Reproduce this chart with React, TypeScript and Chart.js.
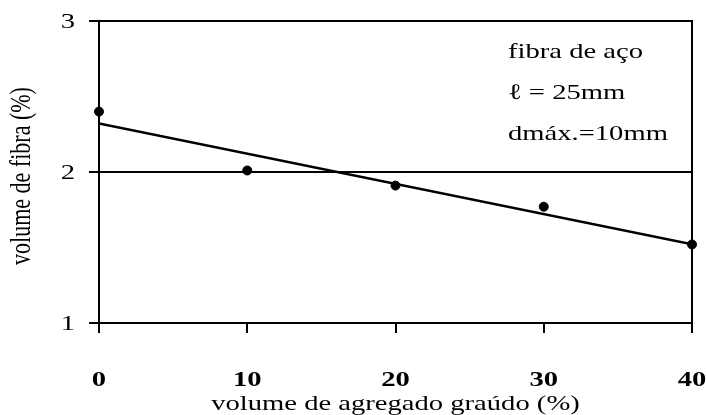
import React, { useEffect, useRef } from "react";
import { Chart, registerables } from "chart.js";

Chart.register(...registerables);

// Fibre volume measured against coarse aggregate volume
const aggregateVolume = [0, 10, 20, 30, 40];
const fibreVolume = [2.40, 2.01, 1.91, 1.77, 1.52];

const xTicks = [0, 10, 20, 30, 40];
const yTicks = [1, 2, 3];

const xTitle = "volume de agregado graúdo (%)";
const yTitle = "volume de fibra (%)";
const noteLines = ["fibra de aço", "ℓ = 25mm", "dmáx.=10mm"];

const FONT = "'Liberation Serif', 'Times New Roman', serif";
const FONT_SIZE = 22;
// the lettering is drawn wide, as in the printed figure
const STRETCH = 1.3;

// least-squares line through the measured points
function linearFit(xs: number[], ys: number[]) {
  const n = xs.length;
  const mx = xs.reduce((a, b) => a + b, 0) / n;
  const my = ys.reduce((a, b) => a + b, 0) / n;
  let sxy = 0;
  let sxx = 0;
  for (let i = 0; i < n; i++) {
    sxy += (xs[i] - mx) * (ys[i] - my);
    sxx += (xs[i] - mx) * (xs[i] - mx);
  }
  const slope = sxy / sxx;
  return { slope, intercept: my - slope * mx };
}

function wideText(ctx: CanvasRenderingContext2D, text: string, x: number, y: number, align: CanvasTextAlign) {
  ctx.save();
  ctx.translate(x, y);
  ctx.scale(STRETCH, 1);
  ctx.textAlign = align;
  ctx.fillText(text, 0, 0);
  ctx.restore();
}

const textPlugin = {
  id: "frameAndLettering",
  afterDraw(chart: any) {
    const { ctx, chartArea } = chart;
    const xs = chart.scales.x;
    const ys = chart.scales.y;
    ctx.save();
    // plot frame
    ctx.strokeStyle = "#000";
    ctx.lineWidth = 2;
    ctx.strokeRect(chartArea.left, chartArea.top, chartArea.right - chartArea.left, chartArea.bottom - chartArea.top);

    ctx.fillStyle = "#000";
    ctx.textBaseline = "middle";

    // tick labels, placed from the scales
    ctx.font = `bold ${FONT_SIZE}px ${FONT}`;
    xs.ticks.forEach((t: any) => {
      wideText(ctx, String(t.value), xs.getPixelForValue(t.value), chartArea.bottom + 57, "center");
    });
    ctx.font = `${FONT_SIZE}px ${FONT}`;
    ys.ticks.forEach((t: any) => {
      wideText(ctx, String(t.value), chartArea.left - 24, ys.getPixelForValue(t.value) + 1, "right");
    });

    // axis titles
    wideText(ctx, xTitle, (chartArea.left + chartArea.right) / 2, chartArea.bottom + 81, "center");
    ctx.save();
    ctx.translate(22, (chartArea.top + chartArea.bottom) / 2 + 4);
    ctx.rotate(-Math.PI / 2);
    ctx.scale(1, STRETCH);
    ctx.textAlign = "center";
    ctx.fillText(yTitle, 0, 0);
    ctx.restore();

    // note in the upper right corner
    noteLines.forEach((line, i) => {
      wideText(ctx, line, chartArea.right - 184, chartArea.top + 31 + i * 41, "left");
    });
    ctx.restore();
  },
};

export default function App() {
  const canvasRef = useRef<HTMLCanvasElement | null>(null);

  useEffect(() => {
    if (!canvasRef.current) return;
    const fit = linearFit(aggregateVolume, fibreVolume);
    const xMin = xTicks[0];
    const xMax = xTicks[xTicks.length - 1];
    const chart = new Chart(canvasRef.current, {
      type: "scatter",
      data: {
        datasets: [
          {
            label: "linha de tendência",
            type: "line",
            data: [
              { x: xMin, y: fit.intercept + fit.slope * xMin },
              { x: xMax, y: fit.intercept + fit.slope * xMax },
            ],
            borderColor: "#000",
            borderWidth: 2.5,
            pointRadius: 0,
            fill: false,
          },
          {
            label: "volume de fibra",
            data: aggregateVolume.map((x, i) => ({ x, y: fibreVolume[i] })),
            backgroundColor: "#000",
            borderColor: "#000",
            pointRadius: 4.5,
            pointHoverRadius: 4.5,
            clip: false,
          },
        ],
      } as any,
      options: {
        animation: false,
        responsive: false,
        layout: { padding: { top: 21, right: 14, left: 0, bottom: 0 } },
        plugins: { legend: { display: false }, tooltip: { enabled: false } },
        scales: {
          x: {
            type: "linear",
            min: xMin,
            max: xMax,
            afterBuildTicks: (scale: any) => {
              scale.ticks = xTicks.map((v) => ({ value: v }));
            },
            afterFit: (scale: any) => {
              scale.height = 92;
              scale.paddingLeft = 0;
              scale.paddingRight = 0;
            },
            grid: {
              drawOnChartArea: false,
              drawTicks: true,
              tickLength: 10,
              color: "#000",
              lineWidth: 2,
            },
            border: { display: true, color: "#000", width: 2 },
            ticks: { display: false },
          },
          y: {
            type: "linear",
            min: yTicks[0],
            max: yTicks[yTicks.length - 1],
            afterBuildTicks: (scale: any) => {
              scale.ticks = yTicks.map((v) => ({ value: v }));
            },
            afterFit: (scale: any) => {
              scale.width = 99;
              scale.paddingTop = 0;
              scale.paddingBottom = 0;
            },
            grid: {
              drawTicks: true,
              tickLength: 10,
              color: "#000",
              lineWidth: 2,
            },
            border: { display: true, color: "#000", width: 2 },
            ticks: { display: false },
          },
        },
      } as any,
      plugins: [textPlugin],
    });
    return () => chart.destroy();
  }, []);

  return (
    <div style={{ position: "absolute", left: 0, top: 0, width: 706, height: 415, background: "#fff" }}>
      <canvas ref={canvasRef} width={706} height={415} style={{ display: "block" }} />
    </div>
  );
}
